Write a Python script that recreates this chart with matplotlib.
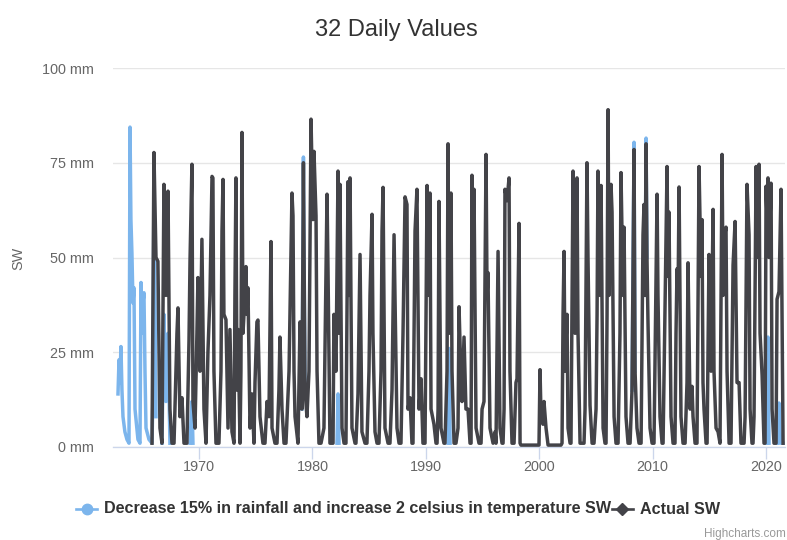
import matplotlib
matplotlib.use("Agg")
import matplotlib.pyplot as plt
import numpy as np
from matplotlib.lines import Line2D

plt.rcParams["font.family"] = ["Liberation Sans", "DejaVu Sans"]

# ---------------------------------------------------------------- data
# vertices (decimal year, SW in mm)
actual_year = [
    1965.86, 1966.03, 1966.21, 1966.38, 1966.56, 1966.74, 1966.91, 1967.09, 1967.27, 1967.44,
    1967.62, 1967.80, 1968.06, 1968.15, 1968.32, 1968.50, 1968.68, 1968.94, 1969.12, 1969.21,
    1969.38, 1969.47, 1969.65, 1969.82, 1969.91, 1970.09, 1970.26, 1970.44, 1970.62, 1970.79,
    1970.97, 1971.15, 1971.23, 1971.32, 1971.50, 1971.76, 1971.94, 1972.03, 1972.12, 1972.20,
    1972.38, 1972.56, 1972.73, 1972.91, 1973.09, 1973.17, 1973.26, 1973.35, 1973.44, 1973.62,
    1973.70, 1973.79, 1973.88, 1974.06, 1974.14, 1974.23, 1974.32, 1974.50, 1974.67, 1974.85,
    1974.94, 1975.11, 1975.20, 1975.38, 1975.64, 1975.82, 1976.00, 1976.17, 1976.35, 1976.44,
    1976.70, 1976.88, 1977.05, 1977.14, 1977.32, 1977.50, 1977.67, 1977.94, 1978.20, 1978.29,
    1978.38, 1978.47, 1978.73, 1978.91, 1978.99, 1979.08, 1979.21, 1979.35, 1979.52, 1979.70,
    1979.88, 1980.05, 1980.14, 1980.32, 1980.41, 1980.58, 1980.76, 1981.02, 1981.29, 1981.38,
    1981.55, 1981.82, 1981.90, 1982.08, 1982.26, 1982.35, 1982.43, 1982.61, 1982.79, 1982.96,
    1983.14, 1983.23, 1983.32, 1983.49, 1983.76, 1983.84, 1984.02, 1984.20, 1984.37, 1984.64,
    1984.81, 1984.99, 1985.08, 1985.26, 1985.34, 1985.52, 1985.70, 1985.87, 1986.05, 1986.14,
    1986.23, 1986.40, 1986.67, 1986.84, 1987.02, 1987.20, 1987.28, 1987.46, 1987.64, 1987.81,
    1987.99, 1988.17, 1988.34, 1988.43, 1988.61, 1988.78, 1988.87, 1989.05, 1989.22, 1989.40,
    1989.58, 1989.75, 1989.93, 1990.11, 1990.28, 1990.37, 1990.46, 1990.72, 1990.90, 1990.99,
    1991.08, 1991.16, 1991.34, 1991.60, 1991.69, 1991.87, 1991.96, 1992.05, 1992.22, 1992.31,
    1992.49, 1992.66, 1992.84, 1992.93, 1993.10, 1993.19, 1993.37, 1993.54, 1993.72, 1993.90,
    1993.99, 1994.07, 1994.16, 1994.25, 1994.43, 1994.69, 1994.87, 1994.96, 1995.13, 1995.31,
    1995.40, 1995.48, 1995.66, 1995.93, 1996.10, 1996.19, 1996.37, 1996.54, 1996.72, 1996.81,
    1996.90, 1996.98, 1997.16, 1997.34, 1997.42, 1997.60, 1997.78, 1997.95, 1998.04, 1998.22,
    1998.31, 1998.39, 1999.89, 1999.98, 2000.07, 2000.16, 2000.25, 2000.33, 2000.42, 2000.60,
    2000.78, 2001.92, 2002.01, 2002.10, 2002.19, 2002.27, 2002.45, 2002.54, 2002.72, 2002.80,
    2002.98, 2003.16, 2003.33, 2003.42, 2003.60, 2003.77, 2003.95, 2004.04, 2004.21, 2004.30,
    2004.48, 2004.66, 2004.83, 2005.01, 2005.10, 2005.18, 2005.36, 2005.45, 2005.63, 2005.80,
    2005.89, 2005.98, 2006.07, 2006.15, 2006.33, 2006.42, 2006.60, 2006.77, 2006.95, 2007.12,
    2007.21, 2007.39, 2007.48, 2007.65, 2007.83, 2008.01, 2008.18, 2008.36, 2008.45, 2008.62,
    2008.80, 2008.98, 2009.15, 2009.24, 2009.33, 2009.42, 2009.50, 2009.59, 2009.77, 2009.95,
    2010.12, 2010.30, 2010.39, 2010.47, 2010.65, 2010.83, 2010.92, 2011.09, 2011.27, 2011.36,
    2011.44, 2011.62, 2011.80, 2011.97, 2012.06, 2012.15, 2012.24, 2012.33, 2012.50, 2012.68,
    2012.86, 2013.03, 2013.12, 2013.30, 2013.47, 2013.56, 2013.74, 2013.91, 2014.09, 2014.27,
    2014.35, 2014.44, 2014.53, 2014.71, 2014.80, 2014.97, 2015.15, 2015.33, 2015.41, 2015.59,
    2015.77, 2015.94, 2016.12, 2016.21, 2016.30, 2016.47, 2016.56, 2016.74, 2016.91, 2017.09,
    2017.27, 2017.44, 2017.62, 2017.79, 2018.06, 2018.15, 2018.32, 2018.50, 2018.59, 2018.76,
    2018.85, 2018.94, 2019.12, 2019.20, 2019.38, 2019.47, 2019.65, 2019.82, 2019.91, 2020.00,
    2020.09, 2020.17, 2020.26, 2020.44, 2020.53, 2020.70, 2020.88, 2020.97, 2021.14, 2021.32,
    2021.50,
]
actual_sw = [
    1, 77.7, 50, 49, 5, 1, 69.3, 40, 67.5, 10,
    1, 1, 30, 36.7, 8, 13, 1, 1, 28, 49,
    74.6, 12, 5, 30, 44.7, 20, 54.8, 10, 1, 25,
    40, 71.4, 71, 20, 1, 1, 20, 57, 70.6, 35,
    33.6, 5, 31, 4, 1, 40, 71, 15, 31, 1,
    20, 83, 30, 40, 47.6, 35, 42, 5, 14, 1,
    17, 33, 33.5, 8, 1, 1, 12, 8, 54.2, 5,
    1, 1, 15, 29, 10, 1, 1, 20, 67, 61,
    20, 8, 1, 33, 20, 10, 75, 15, 8, 20,
    86.5, 60, 78, 61, 20, 1, 1, 5, 66.7, 46,
    1, 1, 35, 20, 72.8, 30, 69.3, 5, 1, 1,
    70, 40, 71, 5, 1, 1, 14, 50.8, 4, 1,
    1, 20, 40, 61.4, 30, 4, 1, 1, 20, 57,
    68.5, 5, 1, 1, 15, 56, 40, 5, 1, 1,
    30, 66, 64, 10, 13, 1, 1, 57, 68, 10,
    18, 1, 1, 69, 40, 67, 10, 6, 1, 1,
    10, 64.8, 5, 1, 1, 20, 80, 30, 67, 20,
    1, 1, 5, 37, 18, 12, 29, 10, 10, 1,
    1, 71.7, 40, 68, 5, 1, 1, 10, 12, 77.2,
    40, 46, 5, 1, 4, 1, 51.6, 5, 1, 1,
    10, 68, 65, 71, 20, 1, 1, 17, 18, 59,
    1, 0.5, 0.5, 0.5, 20.4, 8, 11, 6, 12, 5,
    0.5, 0.5, 1, 35, 51.6, 20, 35, 5, 1, 1,
    72.8, 30, 71, 30, 1, 1, 1, 10, 75, 50,
    11, 1, 1, 10, 35, 72.8, 40, 69, 5, 1,
    1, 35, 89, 40, 69.3, 62, 8, 1, 1, 30,
    72.4, 40, 58, 8, 1, 1, 15, 78.5, 20, 5,
    1, 1, 56, 64, 40, 80, 50, 33, 5, 1,
    1, 45, 66.7, 40, 8, 1, 1, 37, 74, 45,
    62, 8, 1, 1, 30, 47, 40, 68.6, 8, 1,
    1, 17, 48.6, 10, 16, 8, 1, 1, 74, 45,
    60, 17, 10, 1, 1, 50.8, 20, 62.7, 20, 5,
    4, 1, 77.2, 40, 55, 58, 20, 1, 1, 48,
    59.5, 17, 17, 1, 1, 8, 69.3, 56, 10, 1,
    1, 8, 74, 50, 74.6, 30, 19, 1, 1, 68.8,
    60, 71, 50, 69.6, 10, 1, 1, 39, 41, 68,
    1,
]

# scenario series: only the parts that show from under "Actual SW"
# (None = stretch hidden below the dark line)
scenario_year = [
    1962.86, 1962.95, 1963.03, 1963.12, 1963.21, 1963.30, 1963.47, 1963.65, 1963.83, 1963.92,
    1964.00, 1964.09, 1964.18, 1964.27, 1964.36, 1964.62, 1964.80, 1964.89, 1964.97, 1965.06,
    1965.15, 1965.24, 1965.33, 1965.59, 1965.86, 1965.94, 1966.03, 1966.21, None,
    1966.74, 1966.91, 1967.09, 1967.27, 1967.44, None,
    1969.21, 1969.38, 1969.47, None,
    1979.08, 1979.21, 1979.35, None,
    1982.17, 1982.26, 1982.35, None,
    1991.96, 1992.05, 1992.14, None,
    2008.18, 2008.36, 2008.45, None,
    2009.33, 2009.42, 2009.50, None,
    2020.09, 2020.17, 2020.26, None,
    2021.05, 2021.14, 2021.23, 2021.32, 2021.50,
]
scenario_sw = [
    14, 23, 17, 26.5, 15, 8, 4, 2, 1, 84.4,
    60, 51, 38, 42, 10, 2, 1, 43.4, 30, 38,
    40.7, 20, 5, 2, 1, 14, 70, 8, None,
    1, 35, 12, 30, 1, None,
    1, 12, 1, None,
    10, 76.5, 15, None,
    1, 14, 1, None,
    1, 26, 1, None,
    15, 80.4, 20, None,
    40, 81.5, 50, None,
    1, 29, 1, None,
    1, 11.6, 4, 1, 1,
]

y_ticks = [0, 25, 50, 75, 100]
x_ticks = [1970, 1980, 1990, 2000, 2010, 2020]

scenario_label = "Decrease 15% in rainfall and increase 2 celsius in temperature SW"
actual_label = "Actual SW"

BLUE = "#7cb5ec"
DARK = "#434348"

# ---------------------------------------------------------------- figure
W, H = 787, 540
fig = plt.figure(figsize=(W / 100, H / 100), dpi=100)
ax = fig.add_axes([113 / W, 1 - 447 / H, 672 / W, 379 / H])

sx = np.array(scenario_year, dtype=float)
sy = np.array(scenario_sw, dtype=float)
ax.plot(sx, sy, color=BLUE, lw=2.5, zorder=2)
ax.plot(actual_year, actual_sw, color=DARK, lw=2.5, zorder=3)

ax.set_xlim(1962.42, 2021.67)
ax.set_ylim(0, 100)
ax.set_yticks(y_ticks)
ax.set_yticklabels([f"{v} mm" for v in y_ticks])
ax.set_xticks(x_ticks)
ax.set_xticklabels([str(v) for v in x_ticks])

ax.grid(axis="y", color="#e6e6e6", lw=0.95)
ax.grid(axis="x", visible=False)
ax.set_axisbelow(True)
for s in ("top", "right", "left"):
    ax.spines[s].set_visible(False)
ax.spines["bottom"].set_color("#ccd6eb")
ax.spines["bottom"].set_linewidth(0.95)
ax.spines["bottom"].set_zorder(1)

ax.tick_params(axis="x", length=8.6, width=0.95, color="#ccd6eb",
               labelsize=10.4, labelcolor="#666666", pad=1)
ax.tick_params(axis="y", length=0, labelsize=10.4, labelcolor="#666666", pad=14)

fig.text(18 / W, 1 - 258 / H, "SW", rotation=90, ha="center", va="center",
         fontsize=10.4, color="#666666")
fig.text(396 / W, 1 - 30 / H, "32 Daily Values", ha="center", va="center",
         fontsize=17, color="#333333")

# legend, drawn by hand to sit like the original
ly = 1 - 509 / H
fig.add_artist(Line2D([76 / W, 97 / W], [ly, ly], color=BLUE, lw=1.9,
                      transform=fig.transFigure))
fig.add_artist(Line2D([86.5 / W], [ly], marker="o", markersize=7.5, color=BLUE,
                      transform=fig.transFigure))
fig.text(104 / W, ly, scenario_label, ha="left", va="center",
         fontsize=11.6, fontweight="bold", color="#333333")
fig.add_artist(Line2D([612 / W, 633 / W], [ly, ly], color=DARK, lw=1.9,
                      transform=fig.transFigure))
fig.add_artist(Line2D([622 / W], [ly], marker="D", markersize=6, color=DARK,
                      transform=fig.transFigure))
fig.text(640 / W, ly, actual_label, ha="left", va="center",
         fontsize=11.6, fontweight="bold", color="#333333")

fig.text(786 / W, 1 - 534 / H, "Highcharts.com", ha="right", va="center",
         fontsize=8.5, color="#999999")

fig.savefig("out.png", dpi=100, facecolor="white")
